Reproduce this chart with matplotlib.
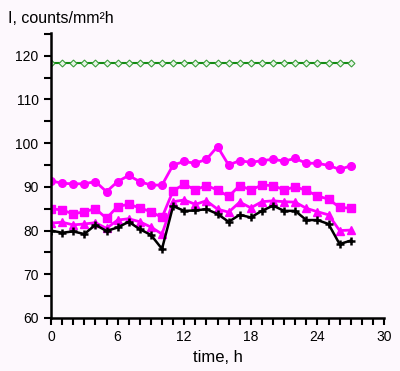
import numpy as np
import matplotlib
matplotlib.use('Agg')
import matplotlib.pyplot as plt
from matplotlib.ticker import MultipleLocator

hours = list(range(28))
reference = [118.3] * 28
circles = [91.4, 90.8, 90.7, 90.7, 91.2, 88.9, 91.2, 92.6, 91.2, 90.4, 90.4,
           95.0, 95.8, 95.4, 96.3, 99.2, 95.0, 96.0, 95.6, 96.0, 96.3, 95.9,
           96.5, 95.4, 95.4, 94.9, 94.0, 94.8]
squares = [85.0, 84.7, 83.8, 84.3, 85.0, 82.8, 85.5, 86.0, 85.2, 84.3, 83.0,
           89.1, 90.6, 89.3, 90.3, 89.3, 87.8, 90.3, 89.3, 90.4, 90.3, 89.3,
           90.0, 89.2, 87.9, 87.2, 85.3, 85.1]
triangles = [81.7, 81.9, 81.3, 81.5, 81.8, 80.5, 82.4, 82.7, 82.0, 80.8, 79.2,
             86.6, 87.0, 86.0, 86.8, 84.9, 84.2, 86.5, 85.2, 86.6, 86.8, 86.6,
             86.5, 85.1, 84.3, 83.6, 80.0, 80.1]
crosses = [80.0, 79.5, 79.8, 79.2, 81.3, 79.9, 80.7, 82.0, 80.3, 79.0, 75.8,
           85.6, 84.5, 84.6, 84.9, 83.8, 82.0, 83.6, 83.0, 84.5, 85.7, 84.5,
           84.5, 82.4, 82.4, 81.5, 76.9, 77.7]

bg = '#fdf8fd'
plt.rcParams['font.family'] = ['Liberation Sans', 'DejaVu Sans']

fig = plt.figure(figsize=(4, 3.71), dpi=100, facecolor=bg)
ax = fig.add_axes([0.1275, 0.143, 0.8325, 0.768])
ax.set_facecolor(bg)

mag = '#ff00ff'
ax.plot(hours, reference, color='#138a13', linewidth=1.5, marker='D', markersize=3.5,
        markerfacecolor='#e8f5e8', markeredgecolor='#3ca03c', markeredgewidth=0.8)
ax.plot(hours, circles, color=mag, linewidth=2, marker='o', markersize=5.5)
ax.plot(hours, squares, color=mag, linewidth=2, marker='s', markersize=5.5)
ax.plot(hours, triangles, color=mag, linewidth=2, marker='^', markersize=6)
ax.plot(hours, crosses, color='black', linewidth=1.8, marker='+', markersize=6,
        markeredgewidth=1.8)

ax.set_xlim(0, 30)
ax.set_ylim(60, 125.2)
ax.xaxis.set_major_locator(MultipleLocator(6))
ax.xaxis.set_minor_locator(MultipleLocator(1))
ax.yaxis.set_major_locator(MultipleLocator(10))
ax.yaxis.set_minor_locator(MultipleLocator(5))
ax.set_yticks([60, 70, 80, 90, 100, 110, 120])

for s in ['top', 'right']:
    ax.spines[s].set_visible(False)
for s in ['left', 'bottom']:
    ax.spines[s].set_linewidth(1.8)
ax.tick_params(which='both', direction='out', length=5, width=1.5, labelsize=10, pad=4)

fig.text(0.02, 0.95, 'I, counts/mm²h', fontsize=11.5, va='center', ha='left')
ax.set_xlabel('time, h', fontsize=12, labelpad=4)

fig.savefig('out.png', dpi=100, facecolor=bg)
